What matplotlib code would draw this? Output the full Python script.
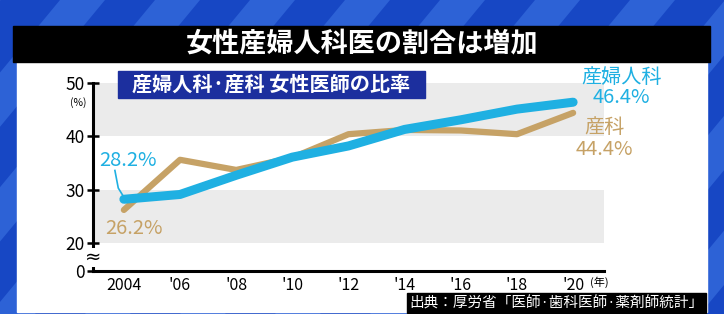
import matplotlib.pyplot as plt
from matplotlib.patches import Rectangle, Polygon

plt.rcParams['font.family'] = ['Noto Sans CJK JP', 'DejaVu Sans']

years = [2004, 2006, 2008, 2010, 2012, 2014, 2016, 2018, 2020]
obgyn = [28.2, 29.1, 32.7, 36.1, 38.2, 41.3, 43.1, 45.1, 46.4]      # 産婦人科
obstet = [26.2, 35.6, 33.7, 36.0, 40.4, 41.2, 41.1, 40.4, 44.4]     # 産科
xticklabels = ['2004', "'06", "'08", "'10", "'12", "'14", "'16", "'18", "'20"]
yticks = [20, 30, 40, 50]

BLUE = '#1fb0e2'
TAN = '#c6a266'
ZERO_POS = 14.75  # 0 drawn below the axis break

fig = plt.figure(figsize=(7.24, 3.14), dpi=100)

# background in pixel coordinates
bg = fig.add_axes([0, 0, 1, 1])
bg.set_xlim(0, 724)
bg.set_ylim(314, 0)
bg.axis('off')
bg.add_patch(Rectangle((0, 0), 724, 314, color='#1747c4'))
for x0 in range(-200, 800, 95):
    bg.add_patch(Polygon([(x0, 314), (x0 + 45, 314), (x0 + 45 + 260, 0), (x0 + 260, 0)],
                         closed=True, color='#2d62d6', lw=0))
bg.add_patch(Rectangle((17, 60), 690, 252, color='white'))
bg.add_patch(Rectangle((13, 26), 697, 36, color='black'))
bg.text(362, 43, '女性産婦人科医の割合は増加', color='white', fontsize=19.5,
        fontweight='bold', ha='center', va='center')

ax = fig.add_axes([93 / 724, 43 / 314, 511 / 724, 188 / 314])
ax.patch.set_alpha(0)
ax.set_xlim(2002.9, 2021.1)
ax.set_ylim(ZERO_POS, 50)
ax.axhspan(20, 30, color='#ebebeb', lw=0, zorder=0)
ax.axhspan(40, 50, color='#ebebeb', lw=0, zorder=0)

ax.plot(years, obstet, color=TAN, lw=4.5, solid_capstyle='round', solid_joinstyle='round', zorder=3)
ax.plot(years, obgyn, color=BLUE, lw=6.5, solid_capstyle='round', solid_joinstyle='round', zorder=4)

for s in ['top', 'right']:
    ax.spines[s].set_visible(False)
for s in ['left', 'bottom']:
    ax.spines[s].set_linewidth(2.2)
    ax.spines[s].set_color('black')

ax.set_xticks(years)
ax.set_xticklabels(xticklabels)
ax.set_yticks([ZERO_POS] + yticks)
ax.set_yticklabels(['0'] + [str(v) for v in yticks])
ax.tick_params(axis='y', direction='inout', length=8, width=1.8, labelsize=12.5, pad=2)
ax.tick_params(axis='x', length=0, labelsize=11.5, pad=4)

# axis break mark
ax.text(2002.9, 17.3, '≈', fontsize=14, ha='center', va='center', family='DejaVu Sans',
        bbox=dict(facecolor='white', edgecolor='none', pad=0), zorder=5, clip_on=False)

ax.text(2002.36, 46.3, '(%)', fontsize=7.5, ha='center', va='center', clip_on=False)
ax.text(2020.95, 12.6, '(年)', fontsize=8, ha='center', va='center', clip_on=False)

ax.text(2004.14, 35.5, '28.2%', color=BLUE, fontsize=14.5, ha='center', va='center')
ax.plot([2003.68, 2003.8, 2004.0], [33.6, 30.3, 28.6], color=BLUE, lw=1.2, zorder=2)
ax.text(2004.36, 22.8, '26.2%', color=TAN, fontsize=14.5, ha='center', va='center')
ax.text(2021.72, 51.1, '産婦人科', color=BLUE, fontsize=14.5, ha='center', va='center', clip_on=False)
ax.text(2021.72, 47.3, '46.4%', color=BLUE, fontsize=14.5, ha='center', va='center', clip_on=False)
ax.text(2021.1, 41.7, '産科', color=TAN, fontsize=14.5, ha='center', va='center', clip_on=False)
ax.text(2021.1, 37.6, '44.4%', color=TAN, fontsize=14.5, ha='center', va='center', clip_on=False)

# overlay boxes on top of the chart
top = fig.add_axes([0, 0, 1, 1])
top.set_xlim(0, 724)
top.set_ylim(314, 0)
top.axis('off')
top.add_patch(Rectangle((118, 71), 307, 27, color='#1c2f9e'))
top.text(271, 84, '産婦人科·産科 女性医師の比率', color='white', fontsize=14.5,
         fontweight='bold', ha='center', va='center')
top.add_patch(Rectangle((407, 293), 299, 20, color='black'))
top.text(556, 303, '出典：厚労省「医師·歯科医師·薬剤師統計」', color='white',
         fontsize=10.5, ha='center', va='center')

fig.savefig('out.png', dpi=100)
